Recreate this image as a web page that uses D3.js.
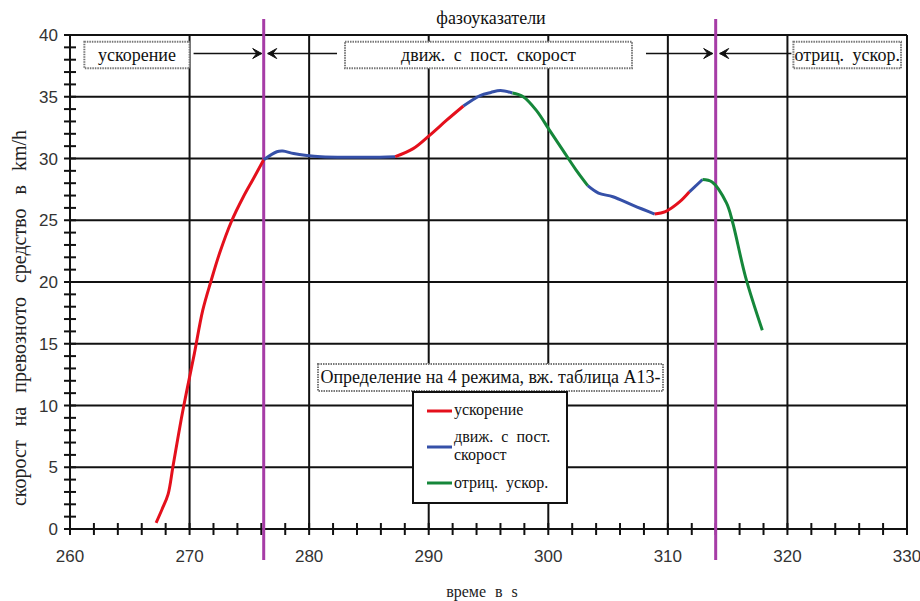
<!DOCTYPE html>
<html><head><meta charset="utf-8">
<script src="https://cdn.jsdelivr.net/npm/d3@7"></script>
<style>body{margin:0;background:#fff}svg{display:block}</style>
</head><body>
<script>
// ---- data ----
const timeS = [267.2,267.7,268.2,268.6,269.1,269.5,270.0,270.4,271.1,271.8,272.5,273.5,274.5,275.3,
  276.2,277.3,277.8,278.7,279.8,281.0,283.0,285.0,
  287.2,288.7,290.1,291.5,
  292.9,294.3,295.2,296.0,
  297.0,297.9,299.0,300.1,301.2,302.3,
  303.3,304.2,305.4,307.1,
  308.9,309.8,311.0,
  311.8,
  312.9,313.7,314.9,315.4,316.5,317.9];
const speedKmh = [0.5,1.6,2.8,5.0,7.8,9.9,12.3,14.2,17.7,20.1,22.3,24.9,26.9,28.3,
  29.9,30.55,30.6,30.4,30.25,30.15,30.1,30.1,
  30.15,30.8,31.9,33.1,
  34.25,35.1,35.35,35.5,
  35.3,35.0,33.9,32.3,30.7,29.1,
  27.8,27.2,26.9,26.2,
  25.5,25.7,26.5,
  27.3,
  28.3,28.1,26.4,24.9,20.4,16.1];
// mode of the segment starting at each point: a = ускорение, c = движ. с пост. скорост, d = отриц. ускор.
const segMode = ["a","a","a","a","a","a","a","a","a","a","a","a","a","a",
  "c","c","c","c","c","c","c","c",
  "a","a","a","a",
  "c","c","c","c",
  "d","d","d","d","d","d",
  "c","c","c","c",
  "a","a","a",
  "c",
  "d","d","d","d","d","d"];
const modeKeys = ["a","c","d"];
const modeNames = ["ускорение","движ. с пост. скорост","отриц. ускор."];
const modeColors = ["#e4101c","#3550a8","#15873a"];
const phaseLines = [276.2, 314];
const xTicks = [260,270,280,290,300,310,320,330];
const yTicks = [0,5,10,15,20,25,30,35,40];
const titleText = "фазоуказатели";
const xLabel = "време в s";
const yLabel = "скорост на превозното средство в km/h";
const noteText = "Определение на 4 режима, вж. таблица А13-";

// ---- layout ----
const W = 920, H = 601;
const svg = d3.select("body").append("svg").attr("width", W).attr("height", H);
const x = d3.scaleLinear().domain([260,330]).range([70,907]);
const y = d3.scaleLinear().domain([0,40]).range([529,35]);
const serif = "'Liberation Serif','DejaVu Serif',serif";
const sans = "'Liberation Sans',Arial,sans-serif";

// grid
const g = svg.append("g");
g.selectAll(".vg").data(xTicks).join("line")
  .attr("x1", d=>x(d)).attr("x2", d=>x(d)).attr("y1", y(0)).attr("y2", y(40))
  .attr("stroke","#111").attr("stroke-width",2);
g.selectAll(".hg").data(yTicks).join("line")
  .attr("y1", d=>y(d)).attr("y2", d=>y(d)).attr("x1", x(260)).attr("x2", x(330))
  .attr("stroke","#111").attr("stroke-width",2);

// minor ticks
const yMinor = d3.range(0,41,1);
g.selectAll(".ym").data(yMinor).join("line")
  .attr("x1", x(260)-6).attr("x2", x(260)+6).attr("y1", d=>y(d)).attr("y2", d=>y(d))
  .attr("stroke","#111").attr("stroke-width",2);
const xMinor = d3.range(260,331,2);
g.selectAll(".xm").data(xMinor).join("line")
  .attr("y1", y(0)-6).attr("y2", y(0)+6).attr("x1", d=>x(d)).attr("x2", d=>x(d))
  .attr("stroke","#111").attr("stroke-width",2);

// tick labels
g.selectAll(".yl").data(yTicks).join("text")
  .attr("x", 58).attr("y", d=>y(d)).attr("dy","0.36em").attr("text-anchor","end")
  .attr("font-family", sans).attr("font-size",17).attr("fill","#333").text(d=>d);
g.selectAll(".xl").data(xTicks).join("text")
  .attr("x", d=>x(d)).attr("y", 556).attr("dy","0.36em").attr("text-anchor","middle")
  .attr("font-family", sans).attr("font-size",17).attr("fill","#333").text(d=>d);

// phase lines
g.selectAll(".pl").data(phaseLines).join("line")
  .attr("x1", d=>x(d)).attr("x2", d=>x(d)).attr("y1", 19).attr("y2", 560)
  .attr("stroke","#a63ca6").attr("stroke-width",3);

// phase boxes and arrows
function box(x0, x1, y0, y1){
  g.append("rect").attr("x", x0).attr("y", y0).attr("width", x1-x0).attr("height", y1-y0)
    .attr("fill","#fff").attr("stroke","#777").attr("stroke-width",2).attr("stroke-dasharray","1.5,1");
}
const boxTop = y(39.45), boxBot = y(37.3), arrowY = y(38.5);
const phaseBoxes = [[261.2,270.0],[283.0,307.0],[320.5,329.5]];
phaseBoxes.forEach((b,i)=>{
  box(x(b[0]), x(b[1]), boxTop, boxBot);
  g.append("text").attr("x",(x(b[0])+x(b[1]))/2).attr("y",(boxTop+boxBot)/2).attr("dy","0.33em")
    .attr("text-anchor","middle").attr("font-family",serif).attr("font-size",18)
    .attr("word-spacing",4).attr("fill","#111").text(modeNames[i]);
});
function arrow(xFrom, xTip){
  const dir = Math.sign(xTip - xFrom);
  g.append("line").attr("x1",xFrom).attr("x2",xTip).attr("y1",arrowY).attr("y2",arrowY)
    .attr("stroke","#111").attr("stroke-width",1.5);
  g.append("path").attr("d",`M${xTip-dir*9},${arrowY-5}L${xTip},${arrowY}L${xTip-dir*9},${arrowY+5}L${xTip-dir*5},${arrowY}Z`)
    .attr("fill","#111").attr("stroke","#111").attr("stroke-width",1);
}
arrow(x(phaseBoxes[0][1])+4, x(phaseLines[0])-2);
arrow(x(phaseBoxes[1][0])-8, x(phaseLines[0])+4);
arrow(x(phaseBoxes[1][1])+14, x(phaseLines[1])-3);
arrow(x(phaseBoxes[2][0])-2, x(phaseLines[1])+4);

// title and axis labels
svg.append("text").attr("x",491).attr("y",18).attr("dy","0.35em").attr("text-anchor","middle")
  .attr("font-family",serif).attr("font-size",18).attr("fill","#111").text(titleText);
svg.append("text").attr("x",482).attr("y",591).attr("dy","0.35em").attr("text-anchor","middle")
  .attr("font-family",serif).attr("font-size",16).attr("word-spacing",5).attr("fill","#222").text(xLabel);
svg.append("text").attr("transform","translate(19,318) rotate(-90)").attr("dy","0.35em")
  .attr("text-anchor","middle").attr("font-family",serif).attr("font-size",20)
  .attr("word-spacing",9).attr("fill","#222").text(yLabel);

// curve segments
const pts = timeS.map((t,i)=>({t, v:speedKmh[i], m:segMode[i]}));
const runs = [];
for (let i=0;i<pts.length-1;i++){
  const m = pts[i].m;
  if (!runs.length || runs[runs.length-1].m !== m) runs.push({m, p:[pts[i]]});
  runs[runs.length-1].p.push(pts[i+1]);
}
const line = d3.line().x(d=>x(d.t)).y(d=>y(d.v)).curve(d3.curveCatmullRom.alpha(0.5));
svg.append("g").selectAll("path").data(runs).join("path")
  .attr("d", d=>line(d.p)).attr("fill","none")
  .attr("stroke", d=>modeColors[modeKeys.indexOf(d.m)]).attr("stroke-width",3)
  .attr("stroke-linejoin","round");

// note box
const nx0 = 318, nx1 = 663, ny0 = 364, ny1 = 391;
svg.append("rect").attr("x",nx0).attr("y",ny0).attr("width",nx1-nx0).attr("height",ny1-ny0)
  .attr("fill","#fff").attr("stroke","#777").attr("stroke-width",2).attr("stroke-dasharray","1.5,1");
svg.append("text").attr("x",(nx0+nx1)/2).attr("y",(ny0+ny1)/2).attr("dy","0.33em").attr("text-anchor","middle")
  .attr("font-family",serif).attr("font-size",18).attr("fill","#111").text(noteText);

// legend
const lg = svg.append("g");
lg.append("rect").attr("x",413).attr("y",392).attr("width",154).attr("height",111)
  .attr("fill","#fff").attr("stroke","#111").attr("stroke-width",2);
const legY = [411,447,483];
modeKeys.forEach((k,i)=>{
  lg.append("line").attr("x1",427).attr("x2",452).attr("y1",legY[i]).attr("y2",legY[i])
    .attr("stroke",modeColors[i]).attr("stroke-width",3);
});
const legT = (txt, yy)=> lg.append("text").attr("x",454).attr("y",yy).attr("dy","0.33em")
  .attr("font-family",serif).attr("font-size",16).attr("word-spacing",4).attr("fill","#111").text(txt);
legT(modeNames[0], 410);
legT("движ. с пост.", 437);
legT("скорост", 455);
legT(modeNames[2], 483);
</script>
</body></html>
